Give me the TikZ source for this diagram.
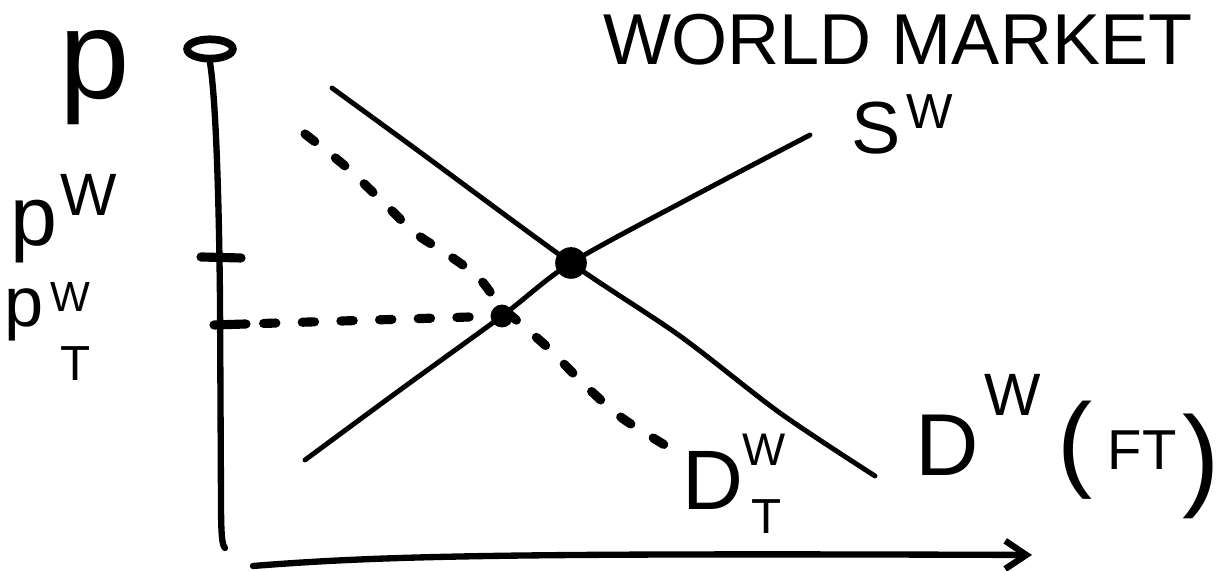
\documentclass[tikz,border=0pt]{standalone}
\usepackage{fontspec}
\setmainfont{Liberation Sans}
\usetikzlibrary{arrows.meta,shapes.geometric}
\newcommand{\fs}[1]{\fontsize{#1}{#1}\selectfont}
\begin{document}
\begin{tikzpicture}[x=0.01cm,y=-0.01cm,
  axis/.style={line width=1.8pt, line cap=round, line join=round},
  tickmark/.style={line width=2.6pt, line cap=round},
  curve/.style={line width=1.4pt, line cap=round},
  dashcurve/.style={line width=2.6pt, line cap=round, dash pattern=on 3.5pt off 7.5pt},
  lbl/.style={inner sep=0pt, outer sep=0pt},
  dot/.style={circle, fill=black, inner sep=0pt},
]
\useasboundingbox (0,0) rectangle (1229,571);
\fill[white] (0,0) rectangle (1229,571);

% y axis
\node[ellipse, draw, line width=2.2pt, minimum width=13pt, minimum height=5.5pt, inner sep=0pt] (ytop) at (210,49) {};
\coordinate (ybot) at (225,548);
\draw[axis] (ytop.south) .. controls (216,100) and (219,200) .. (220,300) -- (221,500) .. controls (221,535) and (222,545) .. (ybot);

% x axis
\coordinate (xstart) at (253,566);
\coordinate (xend) at (1032,555);
\draw[axis, -{Straight Barb[length=6pt,width=8pt]}] (xstart) .. controls (380,556) and (500,553) .. (xend);

% ticks
\coordinate (t1a) at (201,257);
\coordinate (t1b) at (241,258);
\coordinate (t2a) at (214,325);
\coordinate (t2b) at (246,324);
\draw[tickmark] (t1a) -- (t1b);
\draw[tickmark] (t2a) -- (t2b);

% curves
\draw[curve] plot[smooth] coordinates {(305,460) (400,390) (502,316) (571,263) (690,198) (810,135)};
\draw[curve] plot[smooth] coordinates {(332,88) (413,147) (571,263) (680,336) (780,413) (875,476)};
\draw[dashcurve] plot[smooth] coordinates {(305,134) (345,166) (385,204) (415,233) (447,254) (478,277) (500,305) (522,325) (545,345) (563,363) (590,390) (622,418) (668,447)};

% intersections
\node[dot, minimum size=9pt] (E) at (571,263) {};
\node[dot, minimum size=6.5pt] (ET) at (502,316) {};
\draw[dashcurve, dash phase=6pt] (t2b) -- (ET);

% labels
\node[lbl, font=\fs{36}] (plab) at (95,78) {p};
\node[lbl, font=\fs{24}] (pW) at (34,232) {p};
\node[lbl, font=\fs{17}] (pWs) at (89,195) {W};
\node[lbl, font=\fs{20}] (pT) at (24,315) {p};
\node[lbl, font=\fs{12}] (pTs) at (70,297) {W};
\node[lbl, font=\fs{14}] (pTt) at (76,364) {T};
\node[lbl, font=\fs{20.5}] (title) at (898,40) {WORLD MARKET};
\node[lbl, font=\fs{21}] (S) at (876,128) {S};
\node[lbl, font=\fs{14}] (Ss) at (930,112) {W};
\node[lbl, font=\fs{25}] (D) at (947,445) {D};
\node[lbl, font=\fs{17}] (Ds) at (1013,395) {W};
\node[lbl, font=\fs{30}] (lp) at (1075,450) {(};
\node[lbl, font=\fs{16}] (FT) at (1142,450) {FT};
\node[lbl, font=\fs{32}] (rp) at (1201,466) {)};
\node[lbl, font=\fs{24}] (DT) at (713,480) {D};
\node[lbl, font=\fs{13}] (DTs) at (764,450) {W};
\node[lbl, font=\fs{14}] (DTt) at (767,517) {T};
\end{tikzpicture}
\end{document}
